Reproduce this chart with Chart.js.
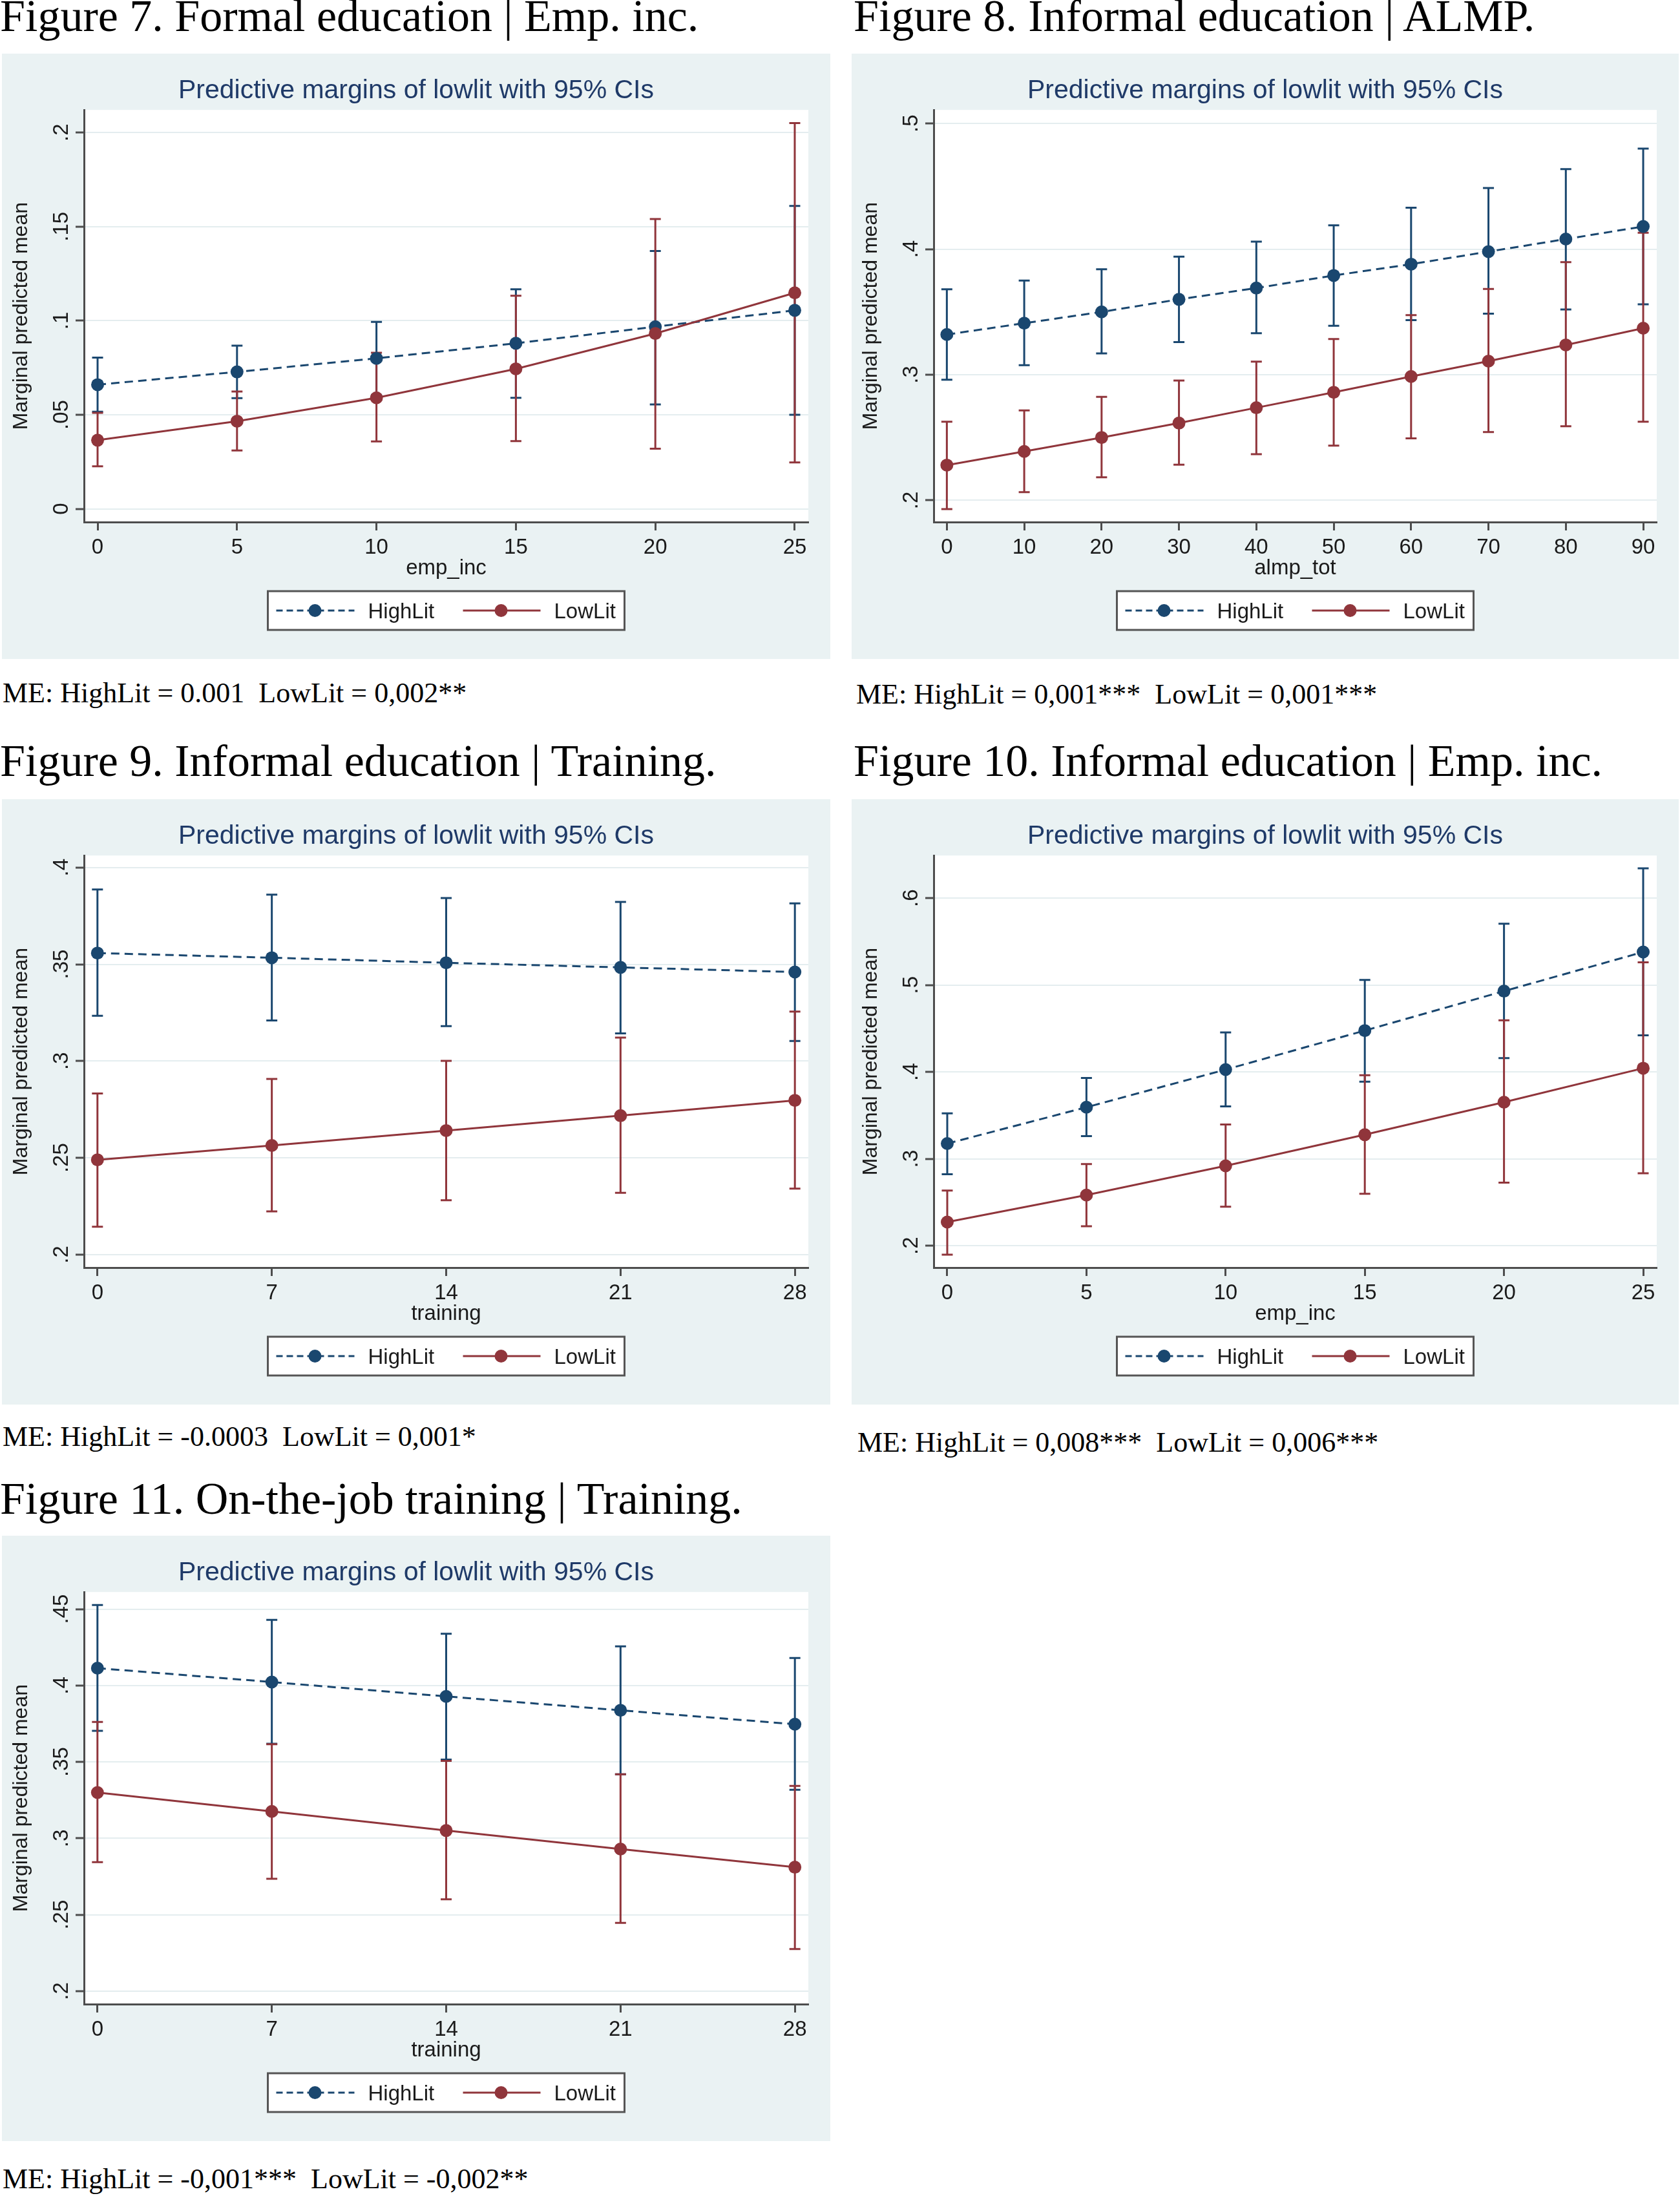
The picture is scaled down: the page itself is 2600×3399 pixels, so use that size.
<!DOCTYPE html>
<html><head><meta charset="utf-8">
<script src="https://cdn.jsdelivr.net/npm/chart.js@4.4.1/dist/chart.umd.min.js"></script>
<style>
html,body{margin:0;padding:0;background:#fff;}
body{width:2600px;height:3399px;position:relative;overflow:hidden;}
.cap{position:absolute;font-family:'Liberation Serif','Times New Roman',serif;color:#000;white-space:pre;line-height:1;}
.fig{font-size:70px;}
.me{font-size:44px;}
canvas{position:absolute;}
</style></head>
<body>
<div class="cap fig" style="left:0px;top:-10px">Figure 7. Formal education | Emp. inc.</div>
<div class="cap fig" style="left:1321px;top:-10px">Figure 8. Informal education | ALMP.</div>
<div class="cap me" style="left:4px;top:1051px">ME: HighLit = 0.001  LowLit = 0,002**</div>
<div class="cap me" style="left:1325px;top:1053px">ME: HighLit = 0,001***  LowLit = 0,001***</div>
<div class="cap fig" style="left:0px;top:1143px">Figure 9. Informal education | Training.</div>
<div class="cap fig" style="left:1321px;top:1143px">Figure 10. Informal education | Emp. inc.</div>
<div class="cap me" style="left:4px;top:2202px">ME: HighLit = -0.0003  LowLit = 0,001*</div>
<div class="cap me" style="left:1327px;top:2211px">ME: HighLit = 0,008***  LowLit = 0,006***</div>
<div class="cap fig" style="left:0px;top:2285px">Figure 11. On-the-job training | Training.</div>
<div class="cap me" style="left:4px;top:3351px">ME: HighLit = -0,001***  LowLit = -0,002**</div>

<canvas id="c7" width="1282" height="937" style="left:3px;top:83px"></canvas>
<canvas id="c8" width="1280" height="937" style="left:1318px;top:83px"></canvas>
<canvas id="c9" width="1282" height="937" style="left:3px;top:1237px"></canvas>
<canvas id="c10" width="1280" height="937" style="left:1318px;top:1237px"></canvas>
<canvas id="c11" width="1282" height="937" style="left:3px;top:2377px"></canvas>

<script>
// ---------------- DATA ----------------
const seriesNames = ["HighLit", "LowLit"];
const chartTitle = "Predictive margins of lowlit with 95% CIs";
const yAxisTitle = "Marginal predicted mean";

// Figure 7
const f7X = [0, 5, 10, 15, 20, 25];
const f7XLabels = ["0", "5", "10", "15", "20", "25"];
const f7XTitle = "emp_inc";
const f7High = [0.066, 0.0728, 0.080, 0.088, 0.0968, 0.1055];
const f7HighLo = [0.0516, 0.0588, 0.0606, 0.059, 0.0555, 0.050];
const f7HighHi = [0.0804, 0.0867, 0.0994, 0.1167, 0.137, 0.161];
const f7Low = [0.0365, 0.0466, 0.059, 0.0744, 0.0932, 0.1148];
const f7LowLo = [0.0226, 0.031, 0.0358, 0.036, 0.032, 0.0247];
const f7LowHi = [0.051, 0.0624, 0.083, 0.1133, 0.154, 0.205];
const f7YTicks = [0, 0.05, 0.1, 0.15, 0.2];
const f7YLabels = ["0", ".05", ".1", ".15", ".2"];
const f7XRange = [-0.487, 25.487];
const f7YRange = [-0.007, 0.212];

// Figure 8
const f8X = [0, 10, 20, 30, 40, 50, 60, 70, 80, 90];
const f8XLabels = ["0", "10", "20", "30", "40", "50", "60", "70", "80", "90"];
const f8XTitle = "almp_tot";
const f8High = [0.332, 0.341, 0.350, 0.360, 0.369, 0.379, 0.388, 0.398, 0.408, 0.418];
const f8HighLo = [0.296, 0.3076, 0.317, 0.326, 0.333, 0.339, 0.3435, 0.3486, 0.352, 0.356];
const f8HighHi = [0.368, 0.375, 0.384, 0.394, 0.406, 0.419, 0.433, 0.4486, 0.4637, 0.480];
const f8Low = [0.228, 0.2389, 0.250, 0.2615, 0.2737, 0.286, 0.2986, 0.3108, 0.3237, 0.337];
const f8LowLo = [0.193, 0.2065, 0.2183, 0.2284, 0.2367, 0.2435, 0.2493, 0.2543, 0.259, 0.2626];
const f8LowHi = [0.2626, 0.2716, 0.2824, 0.2953, 0.3104, 0.3284, 0.3475, 0.3683, 0.3896, 0.413];
const f8YTicks = [0.2, 0.3, 0.4, 0.5];
const f8YLabels = [".2", ".3", ".4", ".5"];
const f8XRange = [-1.7, 91.75];
const f8YRange = [0.1827, 0.5108];

// Figure 9
const f9X = [0, 7, 14, 21, 28];
const f9XLabels = ["0", "7", "14", "21", "28"];
const f9XTitle = "training";
const f9High = [0.3558, 0.3534, 0.3508, 0.3484, 0.346];
const f9HighLo = [0.3234, 0.321, 0.3181, 0.3143, 0.3104];
const f9HighHi = [0.3887, 0.386, 0.3842, 0.3822, 0.3815];
const f9Low = [0.249, 0.2564, 0.2641, 0.2718, 0.2797];
const f9LowLo = [0.2144, 0.2223, 0.2281, 0.2319, 0.2341];
const f9LowHi = [0.2833, 0.2908, 0.3001, 0.3121, 0.3256];
const f9YTicks = [0.2, 0.25, 0.3, 0.35, 0.4];
const f9YLabels = [".2", ".25", ".3", ".35", ".4"];
const f9XRange = [-0.54, 28.54];
const f9YRange = [0.1933, 0.4062];

// Figure 10
const f10X = [0, 5, 10, 15, 20, 25];
const f10XLabels = ["0", "5", "10", "15", "20", "25"];
const f10XTitle = "emp_inc";
const f10High = [0.3176, 0.3594, 0.4027, 0.4476, 0.493, 0.538];
const f10HighLo = [0.2824, 0.3262, 0.3604, 0.3888, 0.416, 0.4422];
const f10HighHi = [0.3524, 0.393, 0.4455, 0.5059, 0.5706, 0.6342];
const f10Low = [0.2273, 0.2583, 0.292, 0.3278, 0.3652, 0.4043];
const f10LowLo = [0.1898, 0.2225, 0.2449, 0.2599, 0.2727, 0.2834];
const f10LowHi = [0.2636, 0.2941, 0.3396, 0.3963, 0.4594, 0.5262];
const f10YTicks = [0.2, 0.3, 0.4, 0.5, 0.6];
const f10YLabels = [".2", ".3", ".4", ".5", ".6"];
const f10XRange = [-0.487, 25.487];
const f10YRange = [0.1749, 0.649];

// Figure 11
const f11X = [0, 7, 14, 21, 28];
const f11XLabels = ["0", "7", "14", "21", "28"];
const f11XTitle = "training";
const f11High = [0.4114, 0.4023, 0.3929, 0.3838, 0.3747];
const f11HighLo = [0.3704, 0.3619, 0.3516, 0.3419, 0.3318];
const f11HighHi = [0.4527, 0.443, 0.4339, 0.4257, 0.4181];
const f11Low = [0.33, 0.3176, 0.3051, 0.293, 0.2811];
const f11LowLo = [0.2844, 0.2735, 0.2601, 0.2447, 0.2276];
const f11LowHi = [0.3762, 0.3616, 0.3507, 0.3419, 0.3343];
const f11YTicks = [0.2, 0.25, 0.3, 0.35, 0.4, 0.45];
const f11YLabels = [".2", ".25", ".3", ".35", ".4", ".45"];
const f11XRange = [-0.54, 28.54];
const f11YRange = [0.1915, 0.4612];

// ---------------- STYLE ----------------
const NAVY = '#1a476f';
const MAROON = '#90353b';
const PANEL_BG = '#eaf2f3';
const GRID = '#e4edef';
const AXIS = '#4d4d4d';
const TEXT = '#1a1a1a';
const TITLE_COLOR = '#1f3a68';
const SANS = "'Liberation Sans', Arial, Helvetica, sans-serif";

const stataPlugin = {
  id: 'stata',
  beforeDraw(chart) {
    const {ctx, width, height, chartArea: a} = chart;
    ctx.save();
    ctx.fillStyle = PANEL_BG;
    ctx.fillRect(0, 0, width, height);
    ctx.fillStyle = '#ffffff';
    ctx.fillRect(a.left, a.top, a.right - a.left, a.bottom - a.top);
    ctx.restore();
  },
  beforeDatasetsDraw(chart, args, opts) {
    const {ctx} = chart;
    const xs = chart.scales.x, ys = chart.scales.y;
    ctx.save();
    ctx.lineWidth = 3;
    ctx.setLineDash([]);
    opts.ci.forEach(ci => {
      ctx.strokeStyle = ci.color;
      ci.x.forEach((xv, i) => {
        const px = xs.getPixelForValue(xv);
        const p1 = ys.getPixelForValue(ci.lo[i]);
        const p2 = ys.getPixelForValue(ci.hi[i]);
        ctx.beginPath();
        ctx.moveTo(px, p1); ctx.lineTo(px, p2);
        ctx.moveTo(px - 8.5, p1); ctx.lineTo(px + 8.5, p1);
        ctx.moveTo(px - 8.5, p2); ctx.lineTo(px + 8.5, p2);
        ctx.stroke();
      });
    });
    ctx.restore();
  },
  afterDraw(chart, args, opts) {
    const {ctx, chartArea: a} = chart;
    const ys = chart.scales.y;
    ctx.save();
    // y tick labels (rotated)
    ctx.fillStyle = TEXT;
    ctx.font = '33px ' + SANS;
    ctx.textAlign = 'center';
    ctx.textBaseline = 'alphabetic';
    opts.yTicks.forEach((v, i) => {
      const py = ys.getPixelForValue(v);
      ctx.save();
      ctx.translate(a.left - 25, py);
      ctx.rotate(-Math.PI / 2);
      ctx.fillText(opts.yLabels[i], 0, 0);
      ctx.restore();
    });
    // y title
    ctx.font = '32px ' + SANS;
    ctx.save();
    ctx.translate(a.left - 88, (a.top + a.bottom) / 2);
    ctx.rotate(-Math.PI / 2);
    ctx.fillText(opts.yTitle, 0, 0);
    ctx.restore();
    // x title
    ctx.font = '33px ' + SANS;
    const cx = (a.left + a.right) / 2;
    ctx.fillText(opts.xTitle, cx, a.bottom + 81);
    // legend
    const top = a.bottom + 107, h = 60, w = 552;
    const cy = top + h / 2;
    ctx.fillStyle = '#ffffff';
    ctx.fillRect(cx - w / 2, top, w, h);
    ctx.strokeStyle = '#555555';
    ctx.lineWidth = 3;
    ctx.strokeRect(cx - w / 2, top, w, h);
    const items = [
      {name: seriesNames[0], color: NAVY, dash: [10, 6], x0: -263, x1: -142, dot: -203, tx: -121},
      {name: seriesNames[1], color: MAROON, dash: [], x0: 26, x1: 146, dot: 85, tx: 167}
    ];
    items.forEach(it => {
      ctx.strokeStyle = it.color;
      ctx.lineWidth = 3;
      ctx.setLineDash(it.dash);
      ctx.beginPath();
      ctx.moveTo(cx + it.x0, cy); ctx.lineTo(cx + it.x1, cy);
      ctx.stroke();
      ctx.setLineDash([]);
      ctx.fillStyle = it.color;
      ctx.beginPath();
      ctx.arc(cx + it.dot, cy, 10, 0, Math.PI * 2);
      ctx.fill();
      ctx.fillStyle = TEXT;
      ctx.textAlign = 'left';
      ctx.font = '33px ' + SANS;
      ctx.fillText(it.name, cx + it.tx, cy + 12);
    });
    ctx.restore();
  }
};

function makeChart(id, X, XLabels, XTitle, High, HighLo, HighHi, Low, LowLo, LowHi, YTicks, YLabels, XRange, YRange) {
  const pts = arr => X.map((x, i) => ({x: x, y: arr[i]}));
  return new Chart(document.getElementById(id), {
    type: 'line',
    data: {
      datasets: [
        {label: seriesNames[0], data: pts(High), order: 1, borderColor: NAVY, backgroundColor: NAVY,
         borderWidth: 3, borderDash: [13, 8], tension: 0, pointRadius: 10, pointBorderWidth: 0,
         pointBackgroundColor: NAVY, fill: false},
        {label: seriesNames[1], data: pts(Low), order: 0, borderColor: MAROON, backgroundColor: MAROON,
         borderWidth: 3, tension: 0, pointRadius: 10, pointBorderWidth: 0,
         pointBackgroundColor: MAROON, fill: false}
      ]
    },
    options: {
      responsive: false,
      animation: false,
      devicePixelRatio: 1,
      layout: {padding: {left: 0, right: 0, top: 0, bottom: 0}},
      events: [],
      plugins: {
        legend: {display: false},
        tooltip: {enabled: false},
        title: {display: true, text: chartTitle, color: TITLE_COLOR,
                font: {family: SANS, size: 41, weight: 'normal'}, padding: {top: 33, bottom: 5}},
        stata: {
          yTicks: YTicks, yLabels: YLabels, xTitle: XTitle, yTitle: yAxisTitle,
          ci: [
            {x: X, lo: HighLo, hi: HighHi, color: NAVY},
            {x: X, lo: LowLo, hi: LowHi, color: MAROON}
          ]
        }
      },
      scales: {
        x: {
          type: 'linear', min: XRange[0], max: XRange[1],
          afterBuildTicks: s => { s.ticks = X.map(v => ({value: v})); },
          afterFit: s => { s.height = 212; },
          ticks: {autoSkip: false, maxRotation: 0, minRotation: 0, padding: 7, color: TEXT,
                  font: {family: SANS, size: 33},
                  callback: (v, i) => XLabels[i]},
          grid: {drawOnChartArea: false, drawTicks: true, tickLength: 13, tickColor: AXIS, tickWidth: 3},
          border: {display: true, color: AXIS, width: 3}
        },
        y: {
          type: 'linear', position: 'left', min: YRange[0], max: YRange[1],
          afterBuildTicks: s => { s.ticks = YTicks.map(v => ({value: v})); },
          afterFit: s => { s.width = 127; },
          ticks: {display: false},
          grid: {color: GRID, lineWidth: 2, drawTicks: true, tickLength: 13, tickColor: AXIS, tickWidth: 3},
          border: {display: true, color: AXIS, width: 3}
        },
        yRight: {
          type: 'linear', position: 'right', display: true,
          afterFit: s => { s.width = 34; },
          ticks: {display: false},
          grid: {display: false, drawTicks: false},
          border: {display: false}
        }
      }
    },
    plugins: [stataPlugin]
  });
}

makeChart('c7', f7X, f7XLabels, f7XTitle, f7High, f7HighLo, f7HighHi, f7Low, f7LowLo, f7LowHi, f7YTicks, f7YLabels, f7XRange, f7YRange);
makeChart('c8', f8X, f8XLabels, f8XTitle, f8High, f8HighLo, f8HighHi, f8Low, f8LowLo, f8LowHi, f8YTicks, f8YLabels, f8XRange, f8YRange);
makeChart('c9', f9X, f9XLabels, f9XTitle, f9High, f9HighLo, f9HighHi, f9Low, f9LowLo, f9LowHi, f9YTicks, f9YLabels, f9XRange, f9YRange);
makeChart('c10', f10X, f10XLabels, f10XTitle, f10High, f10HighLo, f10HighHi, f10Low, f10LowLo, f10LowHi, f10YTicks, f10YLabels, f10XRange, f10YRange);
makeChart('c11', f11X, f11XLabels, f11XTitle, f11High, f11HighLo, f11HighHi, f11Low, f11LowLo, f11LowHi, f11YTicks, f11YLabels, f11XRange, f11YRange);
</script>
</body></html>
